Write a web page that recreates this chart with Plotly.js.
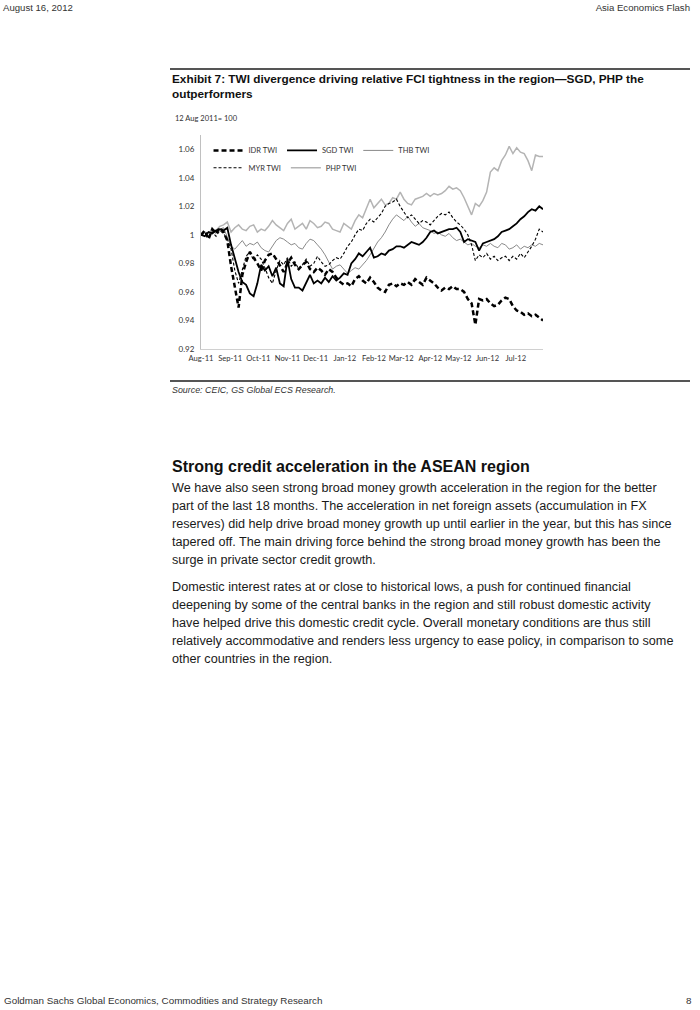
<!DOCTYPE html>
<html>
<head>
<meta charset="utf-8">
<script src="https://cdn.plot.ly/plotly-3.0.1.min.js"></script>
<style>
  html, body { margin:0; padding:0; background:#fff; }
  body { width:700px; height:1010px; position:relative; overflow:hidden; font-family:"Liberation Sans", Arial, sans-serif; color:#111; }
  .t { position:absolute; white-space:nowrap; }
  .hdr { font-size:9.6px; color:#333; line-height:12px; }
  .ftr { font-size:9.85px; color:#333; line-height:12px; }
  .rule { position:absolute; background:#555; }
  .ex { font-weight:bold; font-size:11.8px; line-height:15px; color:#111; }
  .src { font-style:italic; font-size:8.9px; color:#333; line-height:12px; }
  .h2 { font-weight:bold; font-size:16.0px; line-height:20px; color:#111; }
  .p { font-size:12.65px; line-height:18px; color:#1a1a1a; }
  #chart { position:absolute; left:165px; top:105px; width:390px; height:265px; }
</style>
</head>
<body>
<div class="t hdr" style="left:3px; top:2px;">August 16, 2012</div>
<div class="t hdr" style="right:10px; top:2px;">Asia Economics Flash</div>

<div class="rule" style="left:170px; top:68px; width:520px; height:1.5px;"></div>
<div class="t ex" style="left:172px; top:72px;">Exhibit 7: TWI divergence driving relative FCI tightness in the region—SGD, PHP the</div>
<div class="t ex" style="left:172px; top:87px;">outperformers</div>

<div id="chart"></div>

<div class="rule" style="left:170px; top:380px; width:520px; height:1.5px;"></div>
<div class="t src" style="left:172px; top:384px;">Source: CEIC, GS Global ECS Research.</div>

<div class="t h2" style="left:172px; top:457px;">Strong credit acceleration in the ASEAN region</div>
<div class="t p" style="left:172px; top:479px;">We have also seen strong broad money growth acceleration in the region for the better</div>
<div class="t p" style="left:172px; top:497px;">part of the last 18 months. The acceleration in net foreign assets (accumulation in FX</div>
<div class="t p" style="left:172px; top:515px;">reserves) did help drive broad money growth up until earlier in the year, but this has since</div>
<div class="t p" style="left:172px; top:533px;">tapered off. The main driving force behind the strong broad money growth has been the</div>
<div class="t p" style="left:172px; top:551px;">surge in private sector credit growth.</div>
<div class="t p" style="left:172px; top:578px;">Domestic interest rates at or close to historical lows, a push for continued financial</div>
<div class="t p" style="left:172px; top:596px;">deepening by some of the central banks in the region and still robust domestic activity</div>
<div class="t p" style="left:172px; top:614px;">have helped drive this domestic credit cycle. Overall monetary conditions are thus still</div>
<div class="t p" style="left:172px; top:632px;">relatively accommodative and renders less urgency to ease policy, in comparison to some</div>
<div class="t p" style="left:172px; top:650px;">other countries in the region.</div>

<div class="t ftr" style="left:4px; top:995px;">Goldman Sachs Global Economics, Commodities and Strategy Research</div>
<div class="t ftr" style="left:686px; top:995px;">8</div>

<script>
// Dates of the plotted observations
const dates = [
 '2011-08-12','2011-08-16','2011-08-20','2011-08-24','2011-08-28','2011-09-01','2011-09-05','2011-09-09','2011-09-13','2011-09-17',
 '2011-09-21','2011-09-25','2011-09-29','2011-10-03','2011-10-07','2011-10-11','2011-10-15','2011-10-19','2011-10-23','2011-10-27',
 '2011-10-31','2011-11-04','2011-11-08','2011-11-12','2011-11-16','2011-11-20','2011-11-24','2011-11-28','2011-12-02','2011-12-06',
 '2011-12-10','2011-12-14','2011-12-18','2011-12-22','2011-12-26','2011-12-30','2012-01-03','2012-01-07','2012-01-11','2012-01-15',
 '2012-01-19','2012-01-23','2012-01-27','2012-01-31','2012-02-04','2012-02-08','2012-02-12','2012-02-16','2012-02-20','2012-02-24',
 '2012-02-28','2012-03-03','2012-03-07','2012-03-11','2012-03-15','2012-03-19','2012-03-23','2012-03-27','2012-03-31','2012-04-04',
 '2012-04-08','2012-04-12','2012-04-16','2012-04-20','2012-04-24','2012-04-28','2012-05-02','2012-05-06','2012-05-10','2012-05-14',
 '2012-05-18','2012-05-22','2012-05-26','2012-05-30','2012-06-03','2012-06-07','2012-06-11','2012-06-15','2012-06-19','2012-06-23',
 '2012-06-27','2012-07-01','2012-07-05','2012-07-09','2012-07-13','2012-07-17','2012-07-21','2012-07-25','2012-07-29','2012-08-02',
 '2012-08-06','2012-08-10'];

const idrTWI = [
 1.000,1.003,0.997,1.004,1.001,1.005,1.002,0.996,0.978,0.962,
 0.949,0.972,0.981,0.988,0.984,0.980,0.975,0.982,0.986,0.987,
 0.983,0.978,0.974,0.980,0.984,0.979,0.976,0.979,0.981,0.976,
 0.974,0.977,0.975,0.972,0.976,0.974,0.970,0.967,0.965,0.966,
 0.964,0.969,0.971,0.968,0.966,0.970,0.967,0.963,0.961,0.960,
 0.965,0.966,0.964,0.966,0.965,0.967,0.965,0.969,0.967,0.965,
 0.970,0.968,0.966,0.963,0.961,0.963,0.962,0.964,0.962,0.962,
 0.960,0.955,0.952,0.937,0.955,0.954,0.955,0.952,0.950,0.951,
 0.954,0.956,0.955,0.950,0.947,0.946,0.944,0.945,0.943,0.944,
 0.942,0.940];

const sgdTWI = [
 1.000,0.999,1.002,1.001,1.003,1.004,1.003,1.005,0.993,0.984,
 0.974,0.967,0.965,0.959,0.957,0.966,0.979,0.975,0.978,0.971,
 0.977,0.966,0.964,0.983,0.969,0.963,0.963,0.961,0.966,0.972,
 0.966,0.968,0.966,0.970,0.967,0.971,0.968,0.970,0.973,0.972,
 0.980,0.983,0.987,0.985,0.988,0.991,0.984,0.985,0.987,0.986,
 0.989,0.990,0.992,0.992,0.991,0.993,0.995,0.994,0.993,0.995,
 0.998,1.002,1.003,1.001,1.002,1.003,1.004,1.004,1.005,1.002,
 0.995,0.997,0.996,0.995,0.989,0.994,0.995,0.996,0.997,0.999,
 1.002,1.003,1.004,1.006,1.008,1.011,1.013,1.016,1.018,1.017,
 1.020,1.018];

const thbTWI = [
 1.000,1.002,0.999,1.003,1.001,1.004,1.005,0.998,0.992,0.990,
 0.993,0.996,0.992,0.994,0.993,0.995,0.991,0.989,0.988,0.992,
 0.996,0.998,0.997,0.995,0.993,0.994,0.991,0.990,0.994,0.997,
 0.996,0.993,0.990,0.986,0.981,0.976,0.978,0.979,0.976,0.973,
 0.975,0.977,0.976,0.979,0.982,0.986,0.991,0.995,0.998,1.002,
 1.007,1.011,1.014,1.012,1.010,1.013,1.009,1.006,1.008,1.005,
 1.004,1.003,1.001,1.002,1.000,0.999,1.001,0.998,0.996,0.997,
 0.995,0.993,0.994,0.992,0.991,0.993,0.992,0.994,0.992,0.991,
 0.994,0.993,0.990,0.991,0.993,0.990,0.992,0.991,0.993,0.992,
 0.994,0.993];

const myrTWI = [
 1.000,1.001,0.998,1.002,0.999,1.003,1.001,0.997,0.990,0.975,
 0.966,0.975,0.985,0.988,0.982,0.986,0.983,0.977,0.970,0.966,
 0.975,0.982,0.979,0.984,0.978,0.981,0.976,0.979,0.983,0.978,
 0.980,0.985,0.981,0.978,0.979,0.982,0.984,0.983,0.987,0.992,
 0.995,1.000,1.004,1.003,1.008,1.011,1.009,1.012,1.015,1.020,
 1.022,1.023,1.025,1.020,1.016,1.012,1.014,1.011,1.008,1.010,
 1.009,1.007,1.010,1.013,1.015,1.014,1.016,1.012,1.009,1.007,
 1.004,1.000,0.993,0.982,0.986,0.984,0.987,0.983,0.985,0.982,
 0.984,0.985,0.982,0.985,0.983,0.987,0.984,0.988,0.992,0.997,
 1.004,1.002];

const phpTWI = [
 1.000,1.002,1.001,1.004,1.003,1.006,1.007,1.009,1.002,1.005,
 1.007,1.004,1.003,1.006,1.007,1.002,1.004,1.003,1.006,1.010,
 1.007,1.005,1.003,1.008,1.011,1.004,1.006,1.008,1.004,1.010,
 1.008,1.005,1.006,1.009,1.008,1.004,1.003,1.002,1.008,1.006,
 1.004,1.010,1.014,1.012,1.019,1.025,1.019,1.022,1.025,1.021,
 1.022,1.026,1.025,1.030,1.025,1.022,1.021,1.025,1.026,1.027,
 1.029,1.027,1.029,1.028,1.029,1.031,1.034,1.032,1.033,1.031,
 1.026,1.020,1.014,1.022,1.020,1.024,1.030,1.044,1.047,1.045,
 1.052,1.056,1.062,1.057,1.061,1.058,1.057,1.052,1.045,1.056,
 1.055,1.055];

const xTickVals = ['2011-08-12','2011-09-12','2011-10-12','2011-11-12','2011-12-12','2012-01-12',
                   '2012-02-12','2012-03-12','2012-04-12','2012-05-12','2012-06-12','2012-07-12'];
const xTickText = ['Aug-11','Sep-11','Oct-11','Nov-11','Dec-11','Jan-12','Feb-12','Mar-12','Apr-12','May-12','Jun-12','Jul-12'];
const yTickVals = [0.92,0.94,0.96,0.98,1.00,1.02,1.04,1.06];
const yTickText = ['0.92','0.94','0.96','0.98','1','1.02','1.04','1.06'];

const chartFont = 'Lato, "Open Sans", sans-serif';

const traces = [
  {name:'PHP TWI', x:dates, y:phpTWI, type:'scatter', mode:'lines', legend:'legend2', legendrank:2,
   line:{color:'#b4b4b4', width:1.5}},
  {name:'THB TWI', x:dates, y:thbTWI, type:'scatter', mode:'lines', legend:'legend', legendrank:3,
   line:{color:'#8a8a8a', width:1}},
  {name:'MYR TWI', x:dates, y:myrTWI, type:'scatter', mode:'lines', legend:'legend2', legendrank:1,
   line:{color:'#000', width:1.1, dash:'3px,2px'}},
  {name:'SGD TWI', x:dates, y:sgdTWI, type:'scatter', mode:'lines', legend:'legend', legendrank:2,
   line:{color:'#000', width:1.8}},
  {name:'IDR TWI', x:dates, y:idrTWI, type:'scatter', mode:'lines', legend:'legend', legendrank:1,
   line:{color:'#000', width:2.5, dash:'5px,3px'}}
];

const legendCommon = {
  orientation:'h', itemwidth:30,
  font:{family:chartFont, size:7.5, color:'#333'}, bgcolor:'rgba(0,0,0,0)',
  xanchor:'left', yanchor:'middle', traceorder:'normal', itemclick:false
};

const layout = {
  width:390, height:265,
  margin:{l:36, r:12, t:30, b:20.5},
  paper_bgcolor:'#fff', plot_bgcolor:'#fff',
  showlegend:true,
  legend:Object.assign({}, legendCommon, {x:0.022, y:0.928}),
  legend2:Object.assign({}, legendCommon, {x:0.022, y:0.847}),
  xaxis:{type:'date', range:['2011-08-12','2012-08-10'], tickvals:xTickVals, ticktext:xTickText,
         showline:true, linecolor:'#d0d0d0', linewidth:1, showgrid:false, zeroline:false, ticks:'',
         tickangle:0, ticklabelstandoff:2,
         tickfont:{family:chartFont, size:7.6, color:'#333'}, fixedrange:true},
  yaxis:{range:[0.92,1.07], tickvals:yTickVals, ticktext:yTickText,
         showline:true, linecolor:'#c0c0c0', linewidth:1, showgrid:false, zeroline:false, ticks:'',
         ticklabelstandoff:4,
         tickfont:{family:chartFont, size:8, color:'#333'}, fixedrange:true},
  annotations:[{text:'12 Aug 2011= 100', xref:'paper', yref:'paper', x:-0.082, y:1.076,
                xanchor:'left', yanchor:'middle', showarrow:false,
                font:{family:chartFont, size:7.5, color:'#333'}}]
};

Plotly.newPlot('chart', traces, layout, {staticPlot:true, displayModeBar:false});
</script>
</body>
</html>
